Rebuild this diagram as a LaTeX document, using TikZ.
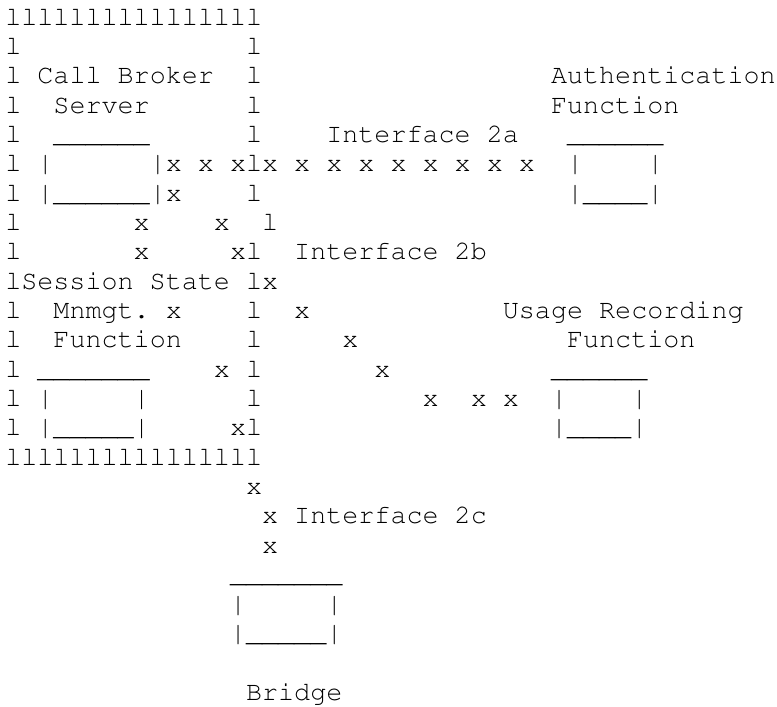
\documentclass[tikz,border=0pt]{standalone}
\usepackage[T1,TU]{fontenc}
\newcommand\asciifont{\fontencoding{T1}\fontfamily{pcr}\fontseries{m}\fontshape{n}\fontsize{26.75}{29.35}\selectfont\frenchspacing}
\tikzset{seg/.style={anchor=base west, inner sep=0pt, outer sep=0pt, font=\asciifont, text=black}}
\newcommand\seg[4]{\node[seg] (#1) at ({5.3+16.05*#2},{-(25+29.35*(#3-1))}) {#4};}
\begin{document}
\begin{tikzpicture}[x=1pt,y=1pt]
\useasboundingbox[fill=white] (0,0) rectangle (777,-707);
\seg{a1}{0}{1}{llllllllllllllll}
\seg{a2l}{0}{2}{l} \seg{a2r}{15}{2}{l}
\seg{a3l}{0}{3}{l} \seg{cb}{2}{3}{Call Broker} \seg{a3r}{15}{3}{l} \seg{auth}{34}{3}{Authentication}
\seg{a4l}{0}{4}{l} \seg{srv}{3}{4}{Server} \seg{a4r}{15}{4}{l} \seg{authf}{34}{4}{Function}
\seg{a5l}{0}{5}{l} \seg{b1t}{3}{5}{\_\_\_\_\_\_} \seg{a5r}{15}{5}{l} \seg{ifa}{20}{5}{Interface 2a} \seg{b2t}{35}{5}{\_\_\_\_\_\_}
\seg{a6l}{0}{6}{l} \seg{b1l}{2}{6}{\textbar} \seg{x6}{9}{6}{\textbar x x xlx x x x x x x x x} \seg{b2l}{35}{6}{\textbar} \seg{b2r}{40}{6}{\textbar}
\seg{a7l}{0}{7}{l} \seg{b1b}{2}{7}{\textbar\_\_\_\_\_\_\textbar x} \seg{a7r}{15}{7}{l} \seg{b2b}{35}{7}{\textbar\_\_\_\_\textbar}
\seg{a8l}{0}{8}{l} \seg{x8a}{8}{8}{x} \seg{x8b}{13}{8}{x} \seg{a8r}{16}{8}{l}
\seg{a9l}{0}{9}{l} \seg{x9a}{8}{9}{x} \seg{x9b}{14}{9}{xl} \seg{ifb}{18}{9}{Interface 2b}
\seg{ss}{0}{10}{lSession State} \seg{a10r}{15}{10}{lx}
\seg{a11l}{0}{11}{l} \seg{mn}{3}{11}{Mnmgt. x} \seg{a11r}{15}{11}{l} \seg{x11}{18}{11}{x} \seg{usage}{31}{11}{Usage Recording}
\seg{a12l}{0}{12}{l} \seg{ssf}{3}{12}{Function} \seg{a12r}{15}{12}{l} \seg{x12}{21}{12}{x} \seg{usagef}{35}{12}{Function}
\seg{a13l}{0}{13}{l} \seg{b3t}{2}{13}{\_\_\_\_\_\_\_} \seg{x13a}{13}{13}{x} \seg{a13r}{15}{13}{l} \seg{x13b}{23}{13}{x} \seg{b4t}{34}{13}{\_\_\_\_\_\_}
\seg{a14l}{0}{14}{l} \seg{b3l}{2}{14}{\textbar} \seg{b3r}{8}{14}{\textbar} \seg{a14r}{15}{14}{l} \seg{x14a}{26}{14}{x} \seg{x14b}{29}{14}{x x} \seg{b4l}{34}{14}{\textbar} \seg{b4r}{39}{14}{\textbar}
\seg{a15l}{0}{15}{l} \seg{b3b}{2}{15}{\textbar\_\_\_\_\_\textbar} \seg{x15}{14}{15}{xl} \seg{b4b}{34}{15}{\textbar\_\_\_\_\textbar}
\seg{a16}{0}{16}{llllllllllllllll}
\seg{x17}{15}{17}{x}
\seg{ifc}{16}{18}{x Interface 2c}
\seg{x19}{16}{19}{x}
\seg{b5t}{14}{20}{\_\_\_\_\_\_\_}
\seg{b5l}{14}{21}{\textbar} \seg{b5r}{20}{21}{\textbar}
\seg{b5b}{14}{22}{\textbar\_\_\_\_\_\textbar}
\seg{br}{15}{24}{Bridge}
\end{tikzpicture}
\end{document}
